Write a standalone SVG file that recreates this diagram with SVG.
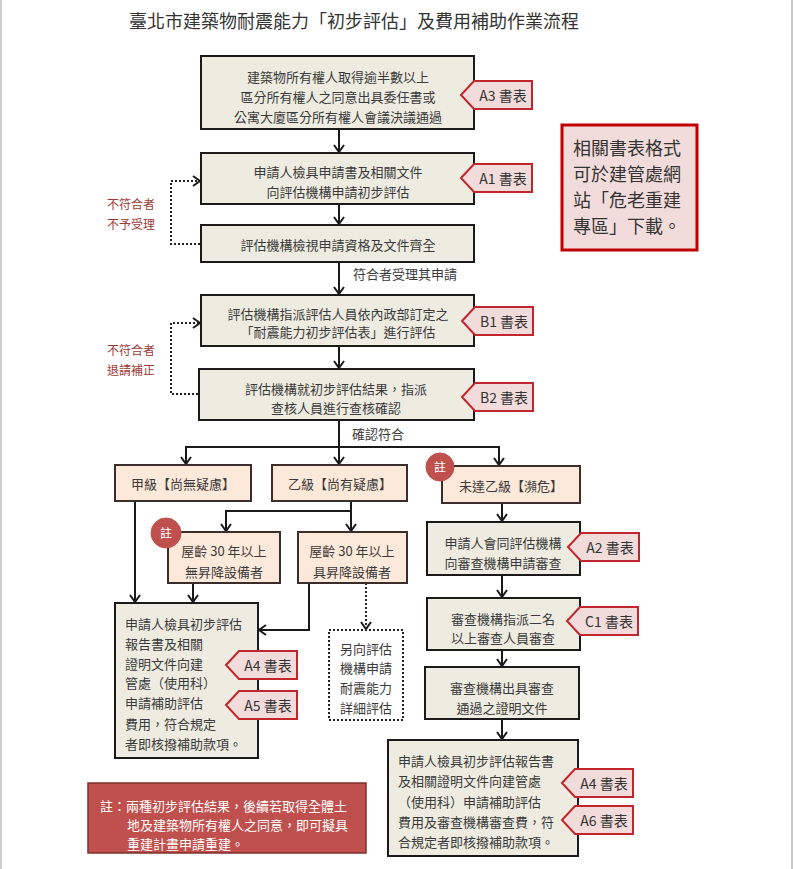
<svg xmlns="http://www.w3.org/2000/svg" xmlns:xlink="http://www.w3.org/1999/xlink" width="793" height="869" viewBox="0 0 793 869">
<style>
text{font-family:"Noto Sans CJK TC","Noto Sans CJK SC",sans-serif;}
.t{font-size:13px;fill:#3a3a3a;text-anchor:middle;dominant-baseline:central;}
.tl{font-size:13px;fill:#3a3a3a;dominant-baseline:central;}
.box{fill:#eeece1;stroke:#1a1a1a;stroke-width:2;}
.pk{fill:#fde9d9;stroke:#3b2d2a;stroke-width:2;}
.dbox{fill:#fff;stroke:#222;stroke-width:2;stroke-dasharray:2 2;}
.tag{fill:#f2dcdb;stroke:#c0262b;stroke-width:2;}
.tt{font-size:14px;fill:#333;text-anchor:middle;dominant-baseline:central;}
.ln{fill:none;stroke:#1a1a1a;stroke-width:2;}
.dl{fill:none;stroke:#222;stroke-width:2;stroke-dasharray:2 2;}
.rl{font-size:12px;fill:#9b3a36;dominant-baseline:central;}
.nc{fill:#c0504d;stroke:#c0504d;}
.nt{font-size:12px;fill:#fff;text-anchor:middle;dominant-baseline:central;}
</style>
<defs>
<marker id="ar" viewBox="-9 -7 11 14" refX="0" refY="0" markerWidth="11" markerHeight="14" markerUnits="userSpaceOnUse" orient="auto">
<path d="M-7,-5 L0,0 L-7,5" fill="none" stroke="#1a1a1a" stroke-width="2"/>
</marker>
<path id="tagshape" d="M0,14 L13,0 H71 V28 H13 Z"/>
</defs>
<rect x="0" y="0" width="793" height="869" fill="#fff"/>
<line x1="1" y1="0" x2="1" y2="869" stroke="#cfcfcf" stroke-width="2"/>
<line x1="792" y1="0" x2="792" y2="869" stroke="#c8c8c8" stroke-width="2"/>
<text x="354" y="20" style="font-size:18px;fill:#333;text-anchor:middle;dominant-baseline:central;">臺北市建築物耐震能力「初步評估」及費用補助作業流程</text>

<g id="connectors">
<path class="ln" d="M339,129 V152" marker-end="url(#ar)"/>
<path class="ln" d="M339,204 V224" marker-end="url(#ar)"/>
<path class="ln" d="M339,262 V294" marker-end="url(#ar)"/>
<path class="ln" d="M339,346 V368" marker-end="url(#ar)"/>
<path class="dl" d="M200,244 H171 V181 H200" marker-end="url(#ar)"/>
<path class="dl" d="M198,394 H171 V323 H200" marker-end="url(#ar)"/>
<path class="ln" d="M339,420 V464" marker-end="url(#ar)"/>
<path class="ln" d="M339,447 H186 V464" marker-end="url(#ar)"/>
<path class="ln" d="M339,447 H499 V465" marker-end="url(#ar)"/>
<path class="ln" d="M351,501 V531" marker-end="url(#ar)"/>
<path class="ln" d="M351,511 H226 V531" marker-end="url(#ar)"/>
<path class="ln" d="M135,501 V602" marker-end="url(#ar)"/>
<path class="ln" d="M193,583 V602" marker-end="url(#ar)"/>
<path class="ln" d="M309,583 V630 H259" marker-end="url(#ar)"/>
<path class="dl" d="M366,583 V629" marker-end="url(#ar)"/>
<path class="ln" d="M502,503 V521" marker-end="url(#ar)"/>
<path class="ln" d="M502,575 V597" marker-end="url(#ar)"/>
<path class="ln" d="M502,650 V666" marker-end="url(#ar)"/>
<path class="ln" d="M502,719 V739" marker-end="url(#ar)"/>
</g>

<g id="n-labels">
<text class="rl" x="107" y="203">不符合者</text>
<text class="rl" x="107" y="223">不予受理</text>
<text class="rl" x="107" y="349">不符合者</text>
<text class="rl" x="107" y="369">退請補正</text>
<text class="tl" x="353" y="273">符合者受理其申請</text>
<text class="tl" x="352" y="433">確認符合</text>
</g>

<g id="n1">
<rect class="box" x="201" y="56" width="273" height="73"/>
<text class="t" x="338" y="76">建築物所有權人取得逾半數以上</text>
<text class="t" x="338" y="96">區分所有權人之同意出具委任書或</text>
<text class="t" x="338" y="116">公寓大廈區分所有權人會議決議通過</text>
</g>
<g id="n2">
<rect class="box" x="201" y="153" width="273" height="51"/>
<text class="t" x="338" y="171">申請人檢具申請書及相關文件</text>
<text class="t" x="338" y="191">向評估機構申請初步評估</text>
</g>
<g id="n3">
<rect class="box" x="201" y="225" width="273" height="37"/>
<text class="t" x="338" y="244">評估機構檢視申請資格及文件齊全</text>
</g>
<g id="n4">
<rect class="box" x="201" y="295" width="273" height="51"/>
<text class="t" x="338" y="313">評估機構指派評估人員依內政部訂定之</text>
<text class="t" x="338" y="331">「耐震能力初步評估表」進行評估</text>
</g>
<g id="n5">
<rect class="box" x="199" y="369" width="275" height="51"/>
<text class="t" x="336" y="388">評估機構就初步評估結果，指派</text>
<text class="t" x="336" y="407">查核人員進行查核確認</text>
</g>

<g id="n-info">
<rect x="562" y="125" width="135" height="125" fill="#f2dcdb" stroke="#c00000" stroke-width="3"/>
<text x="573" y="147" style="font-size:18px;fill:#333;dominant-baseline:central;">相關書表格式</text>
<text x="573" y="173" style="font-size:18px;fill:#333;dominant-baseline:central;">可於建管處網</text>
<text x="573" y="199" style="font-size:18px;fill:#333;dominant-baseline:central;">站「危老重建</text>
<text x="573" y="225" style="font-size:18px;fill:#333;dominant-baseline:central;">專區」下載。</text>
</g>

<g id="n-jia">
<rect class="pk" x="115" y="465" width="136" height="36"/>
<text class="t" x="183" y="483">甲級【尚無疑慮】</text>
</g>
<g id="n-yi">
<rect class="pk" x="272" y="465" width="135" height="36"/>
<text class="t" x="340" y="483">乙級【尚有疑慮】</text>
</g>
<g id="n-weida">
<rect class="pk" x="442" y="466" width="138" height="37"/>
<text class="t" x="511" y="485">未達乙級【瀕危】</text>
<circle class="nc" cx="440" cy="467" r="14"/>
<text class="nt" x="440" y="466">註</text>
</g>
<g id="n-age-no">
<rect class="pk" x="168" y="532" width="112" height="51"/>
<text class="t" x="224" y="550">屋齡 30 年以上</text>
<text class="t" x="224" y="571">無昇降設備者</text>
<circle class="nc" cx="166" cy="533" r="15"/>
<text class="nt" x="166" y="532">註</text>
</g>
<g id="n-age-yes">
<rect class="pk" x="298" y="532" width="109" height="51"/>
<text class="t" x="352" y="550">屋齡 30 年以上</text>
<text class="t" x="352" y="571">具昇降設備者</text>
</g>

<g id="n-left-apply">
<rect class="box" x="115" y="603" width="143" height="155"/>
<text class="tl" x="125" y="623">申請人檢具初步評估</text>
<text class="tl" x="125" y="643">報告書及相關</text>
<text class="tl" x="125" y="663">證明文件向建</text>
<text class="tl" x="125" y="682">管處（使用科）</text>
<text class="tl" x="125" y="702">申請補助評估</text>
<text class="tl" x="125" y="723">費用，符合規定</text>
<text class="tl" x="125" y="743">者即核撥補助款項。</text>
</g>
<g id="n-detail">
<rect class="dbox" x="329" y="630" width="74" height="90"/>
<text class="t" x="366" y="648">另向評估</text>
<text class="t" x="366" y="667">機構申請</text>
<text class="t" x="366" y="687">耐震能力</text>
<text class="t" x="366" y="707">詳細評估</text>
</g>

<g id="n-r1">
<rect class="box" x="427" y="522" width="153" height="53"/>
<text class="t" x="503" y="542">申請人會同評估機構</text>
<text class="t" x="503" y="562">向審查機構申請審查</text>
</g>
<g id="n-r2">
<rect class="box" x="427" y="598" width="153" height="52"/>
<text class="t" x="503" y="618">審查機構指派二名</text>
<text class="t" x="503" y="637">以上審查人員審查</text>
</g>
<g id="n-r3">
<rect class="box" x="425" y="667" width="154" height="52"/>
<text class="t" x="502" y="687">審查機構出具審查</text>
<text class="t" x="502" y="707">通過之證明文件</text>
</g>
<g id="n-r4">
<rect class="box" x="388" y="740" width="190" height="116"/>
<text class="tl" x="398" y="760">申請人檢具初步評估報告書</text>
<text class="tl" x="398" y="780">及相關證明文件向建管處</text>
<text class="tl" x="398" y="801">（使用科）申請補助評估</text>
<text class="tl" x="398" y="821">費用及審查機構審查費，符</text>
<text class="tl" x="398" y="841">合規定者即核撥補助款項。</text>
</g>

<g id="n-note">
<rect x="88" y="783" width="278" height="70" fill="#c0504d" stroke="#7f2f2d" stroke-width="1.5"/>
<text x="100" y="805" style="font-size:13px;fill:#fff;dominant-baseline:central;">註：兩種初步評估結果，後續若取得全體土</text>
<text x="127" y="824" style="font-size:13px;fill:#fff;dominant-baseline:central;">地及建築物所有權人之同意，即可擬具</text>
<text x="127" y="843" style="font-size:13px;fill:#fff;dominant-baseline:central;">重建計畫申請重建。</text>
</g>

<g id="tag-a3"><use xlink:href="#tagshape" class="tag" transform="translate(461,81)"/><text class="tt" x="503" y="95">A3 書表</text></g>
<g id="tag-a1"><use xlink:href="#tagshape" class="tag" transform="translate(461,164)"/><text class="tt" x="503" y="178">A1 書表</text></g>
<g id="tag-b1"><use xlink:href="#tagshape" class="tag" transform="translate(462,307)"/><text class="tt" x="504" y="321">B1 書表</text></g>
<g id="tag-b2"><use xlink:href="#tagshape" class="tag" transform="translate(462,383)"/><text class="tt" x="504" y="397">B2 書表</text></g>
<g id="tag-a2"><use xlink:href="#tagshape" class="tag" transform="translate(568,533)"/><text class="tt" x="610" y="547">A2 書表</text></g>
<g id="tag-c1"><use xlink:href="#tagshape" class="tag" transform="translate(567,607)"/><text class="tt" x="609" y="621">C1 書表</text></g>
<g id="tag-a4l"><use xlink:href="#tagshape" class="tag" transform="translate(226,651)"/><text class="tt" x="268" y="665">A4 書表</text></g>
<g id="tag-a5"><use xlink:href="#tagshape" class="tag" transform="translate(226,691)"/><text class="tt" x="268" y="705">A5 書表</text></g>
<g id="tag-a4r"><use xlink:href="#tagshape" class="tag" transform="translate(562,769)"/><text class="tt" x="604" y="783">A4 書表</text></g>
<g id="tag-a6"><use xlink:href="#tagshape" class="tag" transform="translate(562,806)"/><text class="tt" x="604" y="820">A6 書表</text></g>
</svg>
